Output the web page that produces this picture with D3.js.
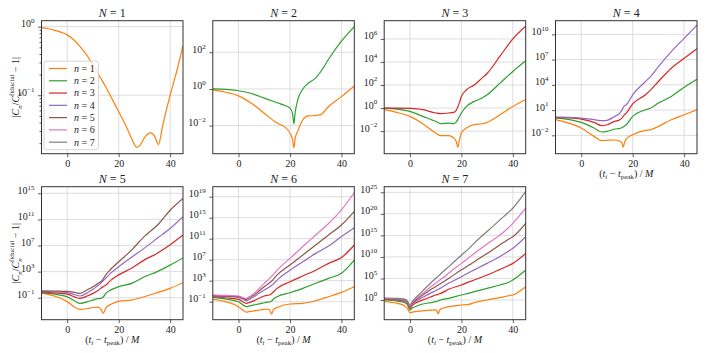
<!DOCTYPE html>
<html>
<head>
<script src="https://cdnjs.cloudflare.com/ajax/libs/d3/7.8.5/d3.min.js"></script>
<style>
  body { margin: 0; background: #fff; }
  svg text { font-family: "Liberation Serif", "DejaVu Serif", serif; fill: #222; }
  .grid line { stroke: #d4d4d4; stroke-width: 0.8; }
  .frame { fill: none; stroke: #333; stroke-width: 1; }
  .axis path { display: none; }
  .axis line { stroke: #333; stroke-width: 0.8; }
  .series { fill: none; stroke-width: 1.2; }
</style>
</head>
<body>
<svg id="fig" width="706" height="353"></svg>
<script>
// colours for n = 1..7
const seriesColors = ["#ff7f0e", "#2ca02c", "#d62728", "#9467bd", "#8c564b", "#e377c2", "#7f7f7f"];
const panelN = [1, 2, 3, 4, 5, 6, 7];
const xLim = [-10, 45];
const xTicks = [0, 20, 40];
// y limits and major ticks, as powers of ten
const yLimExp = [[-1.853, 0.087], [-3.53, 3.72], [-3.96, 7.58], [-4.18, 11.62], [-4.37, 16.01], [-4.43, 20.9], [-4.57, 26.3]];
const yTickExp = [[-1, 0], [-2, 0, 2], [-2, 0, 2, 4, 6], [-2, 1, 4, 7, 10], [-1, 3, 7, 11, 15], [-1, 3, 7, 11, 15, 19], [0, 5, 10, 15, 20, 25]];

// time samples (t_i - t_peak)/M per panel, and log10 |C_n/C_n^fid - 1| per n
const tN1 = [-10, -7.5, -5, -2.5, 0, 2.5, 5, 7.5, 10, 12.5, 15, 17.5, 20, 23, 25, 27, 28.5, 30, 32.5, 34, 35.5, 37, 40, 42, 45];
const devN1 = [
  [-0.015, -0.03, -0.05, -0.08, -0.12, -0.19, -0.29, -0.41, -0.56, -0.72, -0.88, -1.06, -1.24, -1.46, -1.63, -1.76, -1.72, -1.62, -1.55, -1.6, -1.72, -1.46, -1.0, -0.73, -0.28]
];

const tN2 = [-10, -5, 0, 5, 10, 15, 18, 20, 21, 21.5, 22, 23, 25, 27, 30, 32, 35, 40, 45];
const devN2 = [
  [-0.05, -0.18, -0.38, -0.78, -1.32, -1.86, -2.08, -2.41, -2.75, -3.2, -2.7, -2.3, -1.68, -1.47, -1.45, -1.4, -0.96, -0.42, 0.16],
  [0.0, -0.02, -0.1, -0.25, -0.5, -0.75, -0.9, -1.05, -1.35, -1.9, -1.3, -0.6, 0.0, 0.3, 0.6, 0.95, 1.62, 2.6, 3.4]
];

const tN3 = [-10, -5, 0, 5, 10, 12, 15, 17, 18, 18.6, 19.2, 20, 22, 25, 28, 30, 35, 40, 45];
const devN3 = [
  [-0.14, -0.38, -0.72, -1.36, -2.16, -2.4, -2.4, -2.6, -2.9, -3.4, -2.8, -2.16, -1.73, -1.44, -1.36, -1.24, -0.58, 0.14, 0.75],
  [0.0, -0.1, -0.29, -0.72, -1.15, -1.36, -1.3, -1.36, -1.2, -1.0, -0.75, -0.43, 0.14, 0.58, 0.87, 1.15, 2.16, 3.17, 4.1],
  [0.0, 0.0, -0.03, -0.14, -0.43, -0.49, -0.43, -0.38, -0.2, 0.1, 0.45, 1.0, 1.59, 2.0, 2.6, 3.0, 4.5, 6.0, 7.1]
];

const tN4 = [-10, -5, 0, 5, 8, 10, 13, 15, 15.8, 16.3, 16.8, 17.5, 20, 25, 27, 30, 35, 40, 45];
const devN4 = [
  [-0.14, -0.54, -1.13, -2.12, -2.63, -2.6, -2.55, -2.7, -2.9, -3.4, -2.9, -2.43, -1.92, -1.4, -1.33, -0.93, -0.14, 0.45, 1.04],
  [0.05, -0.1, -0.46, -1.13, -1.6, -1.53, -1.25, -1.17, -1.1, -1.0, -0.9, -0.74, 0.25, 1.04, 1.24, 1.83, 2.62, 3.72, 4.67],
  [0.13, 0.08, -0.07, -0.46, -0.86, -0.74, -0.34, -0.14, 0.05, 0.25, 0.45, 0.64, 1.75, 2.82, 3.4, 4.4, 5.97, 7.16, 8.3],
  [0.17, 0.15, 0.05, -0.14, -0.26, -0.22, 0.25, 0.64, 1.0, 1.3, 1.5, 1.63, 2.82, 4.4, 5.0, 6.17, 7.95, 9.53, 11.1]
];

const tN5 = [-10, -5, 0, 3, 5, 8, 10, 12, 13, 14, 15, 17, 20, 25, 30, 35, 40, 45];
const devN5 = [
  [-0.34, -0.74, -1.6, -2.5, -2.8, -2.65, -2.5, -2.45, -2.7, -3.4, -2.6, -2.0, -1.56, -1.36, -0.85, -0.23, 0.43, 1.3],
  [-0.23, -0.45, -0.85, -1.5, -1.87, -1.6, -1.36, -1.15, -1.1, -0.9, -0.34, 0.2, 0.69, 1.2, 2.2, 3.0, 4.0, 5.1],
  [-0.13, -0.25, -0.44, -0.9, -1.1, -0.7, -0.34, 0.1, 0.43, 0.7, 0.94, 1.7, 2.5, 3.5, 4.8, 5.8, 7.1, 8.6],
  [-0.03, -0.1, -0.23, -0.55, -0.74, -0.2, 0.28, 0.9, 1.2, 1.6, 2.0, 2.8, 3.75, 5.2, 6.6, 8.1, 9.6, 11.4],
  [0.07, 0.03, -0.03, -0.2, -0.34, 0.25, 0.69, 1.2, 1.45, 1.9, 2.5, 3.4, 4.5, 6.3, 8.4, 10.1, 12.4, 14.2]
];

const tN6 = [-10, -5, 0, 2, 3, 4, 6, 8, 10, 11, 12, 12.8, 13.6, 15, 20, 25, 30, 35, 40, 45];
const devN6 = [
  [-0.56, -1.0, -1.95, -2.7, -2.97, -2.9, -2.75, -2.6, -2.46, -2.4, -2.5, -3.35, -2.5, -2.1, -1.44, -1.32, -0.8, -0.05, 0.78, 1.86],
  [-0.17, -0.5, -1.0, -1.7, -1.95, -1.85, -1.63, -1.4, -1.2, -1.1, -1.06, -0.9, -0.5, -0.05, 0.71, 1.54, 2.5, 3.44, 4.4, 6.9],
  [-0.05, -0.25, -0.56, -1.1, -1.32, -1.2, -0.8, -0.35, 0.08, 0.2, 0.27, 0.5, 0.9, 1.54, 2.8, 3.9, 5.0, 6.3, 7.4, 9.8],
  [0.08, -0.02, -0.17, -0.6, -0.8, -0.6, -0.05, 0.6, 1.22, 1.5, 1.8, 2.1, 2.4, 3.1, 5.0, 6.6, 8.2, 9.6, 11.4, 13.1],
  [0.2, 0.1, -0.05, -0.4, -0.56, -0.3, 0.27, 1.05, 1.86, 2.2, 2.6, 2.9, 3.3, 4.1, 6.0, 7.9, 9.8, 11.7, 13.6, 16.2],
  [0.27, 0.2, 0.08, -0.25, -0.37, -0.1, 0.59, 1.5, 2.5, 2.95, 3.4, 3.8, 4.2, 5.0, 7.25, 9.5, 11.7, 13.9, 16.5, 19.8]
];

const tN7 = [-10, -5, -2, -1, 0, 1, 2, 5, 8, 10, 10.5, 11, 11.5, 12, 15, 20, 23, 25, 30, 35, 38, 40, 45];
const devN7 = [
  [-0.39, -0.77, -1.4, -1.9, -2.94, -2.8, -2.7, -2.5, -2.35, -2.3, -2.5, -3.25, -2.4, -2.1, -1.55, -1.16, -1.0, -0.62, 0.0, 0.54, 0.93, 1.16, 3.1],
  [0.0, -0.25, -0.62, -1.0, -2.3, -1.8, -1.55, -0.93, -0.6, -0.39, -0.3, -0.2, -0.1, 0.0, 0.39, 1.16, 1.6, 1.93, 2.7, 3.48, 4.0, 4.64, 6.97],
  [0.15, 0.0, -0.3, -0.7, -1.93, -1.2, -0.77, 0.0, 0.7, 1.16, 1.25, 1.35, 1.45, 1.55, 2.48, 3.48, 4.2, 4.64, 5.8, 7.1, 7.9, 8.5, 10.8],
  [0.23, 0.1, -0.2, -0.55, -1.7, -0.9, -0.39, 0.62, 1.6, 2.17, 2.35, 2.5, 2.65, 2.8, 3.87, 5.4, 6.4, 7.0, 8.5, 10.1, 11.2, 12.0, 14.7],
  [0.3, 0.2, -0.1, -0.45, -1.55, -0.7, -0.15, 1.16, 2.4, 3.1, 3.3, 3.5, 3.7, 3.85, 5.0, 7.0, 8.1, 8.9, 10.8, 12.8, 14.0, 14.7, 17.8],
  [0.39, 0.3, 0.05, -0.35, -1.4, -0.5, 0.15, 1.55, 3.0, 3.87, 4.1, 4.35, 4.6, 4.8, 6.2, 8.5, 9.9, 10.8, 13.0, 15.1, 16.6, 17.8, 21.3],
  [0.46, 0.4, 0.2, -0.2, -1.24, -0.3, 0.39, 2.17, 3.9, 5.0, 5.3, 5.55, 5.8, 6.1, 7.7, 10.4, 12.0, 13.2, 15.9, 18.6, 20.2, 21.3, 25.2]
];

const panelTimes = [tN1, tN2, tN3, tN4, tN5, tN6, tN7];
const panelDevs = [devN1, devN2, devN3, devN4, devN5, devN6, devN7];
const legendLabels = ["1", "2", "3", "4", "5", "6", "7"];

// layout
const W = 141.5, H = 133;
const colX = [41.5, 212.8, 384.2, 555.5];
const rowY = [20.7, 186.7];
const FONT = '"Liberation Serif", "DejaVu Serif", serif';

const svg = d3.select("#fig");

// text with italic / sub / sup pieces
function rich(textSel, parts, size, subShift = 0.3) {
  let shift = 0;
  parts.forEach(p => {
    const target = p.sub ? size * subShift : p.sup ? -size * 0.42 : 0;
    const ts = textSel.append("tspan").text(p.s)
      .attr("dy", target - shift)
      .attr("font-size", (p.sub || p.sup) ? size * 0.7 : size)
      .attr("font-style", p.it ? "italic" : "normal");
    if (p.dx) ts.attr("dx", p.dx);
    shift = target;
  });
  return textSel;
}

const yLabelParts = [
  { s: "|" }, { s: "C", it: true }, { s: "n", it: true, sub: true }, { s: "/" },
  { s: "C", it: true }, { s: "n", it: true, sub: true }, { s: "fiducial", sup: true, dx: -3.6 },
  { s: " − 1|" }
];
const xLabelParts = [
  { s: "(" }, { s: "t", it: true }, { s: "i", it: true, sub: true }, { s: " − " },
  { s: "t", it: true }, { s: "peak", sub: true }, { s: ")  /  " }, { s: "M", it: true }
];

panelN.forEach((N, p) => {
  const left = colX[p % 4], top = rowY[Math.floor(p / 4)];
  const g = svg.append("g").attr("transform", `translate(${left},${top})`);
  const x = d3.scaleLinear().domain(xLim).range([0, W]);
  const y = d3.scaleLog().domain(yLimExp[p].map(e => Math.pow(10, e))).range([H, 0]);
  const majors = yTickExp[p].map(e => Math.pow(10, e));

  // grid
  const grid = g.append("g").attr("class", "grid");
  grid.selectAll(".gx").data(xTicks).join("line")
    .attr("x1", d => x(d)).attr("x2", d => x(d)).attr("y1", 0).attr("y2", H);
  grid.selectAll(".gy").data(majors).join("line")
    .attr("y1", d => y(d)).attr("y2", d => y(d)).attr("x1", 0).attr("x2", W);

  // clipped series
  g.append("clipPath").attr("id", "clip" + p)
    .append("rect").attr("width", W).attr("height", H);
  const line = d3.line()
    .x(d => x(d[0]))
    .y(d => y(Math.pow(10, d[1])))
    .curve(d3.curveMonotoneX);
  const times = panelTimes[p];
  g.append("g").attr("clip-path", `url(#clip${p})`)
    .selectAll("path").data(panelDevs[p]).join("path")
    .attr("class", "series")
    .attr("stroke", (d, i) => seriesColors[i])
    .attr("d", d => line(d.map((v, k) => [times[k], v])));

  // x axis
  const xa = g.append("g").attr("class", "axis").attr("transform", `translate(0,${H})`)
    .call(d3.axisBottom(x).tickValues(xTicks).tickSize(3.5).tickPadding(2.5).tickFormat(d3.format("d")));
  xa.attr("font-family", FONT).attr("font-size", 10);
  xa.selectAll("text").attr("fill", "#222");

  // y axis: minor ticks only on the first panel
  if (p === 0) {
    const minors = [];
    [0.01, 0.1].forEach(b => d3.range(2, 10).forEach(k => minors.push(b * k)));
    g.append("g").attr("class", "axis")
      .call(d3.axisLeft(y).tickValues(minors.filter(v => v >= y.domain()[0] && v <= y.domain()[1]))
        .tickSize(2).tickFormat(""));
  }
  const ya = g.append("g").attr("class", "axis")
    .call(d3.axisLeft(y).tickValues(majors).tickSize(3.5).tickPadding(3.5).tickFormat(""));
  ya.attr("font-family", FONT);
  ya.selectAll(".tick text").each(function(d, i) {
    const e = yTickExp[p][i];
    const t = d3.select(this).text("").attr("fill", "#222").attr("dy", "0.32em");
    rich(t, [{ s: "10" }, { s: e < 0 ? "−" + (-e) : String(e), sup: true }], 10);
  });

  // frame
  g.append("rect").attr("class", "frame").attr("width", W).attr("height", H);

  // title
  rich(g.append("text").attr("x", W / 2).attr("y", -3.5).attr("text-anchor", "middle"),
    [{ s: "N", it: true }, { s: " = " + N }], 12);

  // y label on left column
  if (p % 4 === 0) {
    rich(g.append("text").attr("transform", `translate(${15 - left + 3.5},${H / 2}) rotate(-90)`)
      .attr("text-anchor", "middle"), yLabelParts, 10);
  }
  // x label on bottom-most panel of each column
  if (p >= 3) {
    rich(g.append("text").attr("x", W / 2).attr("y", H + 23.5).attr("text-anchor", "middle"),
      xLabelParts, 10, 0.22);
  }

  // legend on first panel
  if (p === 0) {
    const lg = g.append("g").attr("transform", "translate(2.5,40.5)");
    lg.append("rect").attr("width", 54.5).attr("height", 88.5).attr("rx", 2.5)
      .attr("fill", "#fff").attr("fill-opacity", 0.8).attr("stroke", "#cccccc").attr("stroke-width", 0.8);
    legendLabels.forEach((lab, i) => {
      const yy = 7.3 + i * 12.28;
      lg.append("line").attr("x1", 5).attr("x2", 23).attr("y1", yy).attr("y2", yy)
        .attr("stroke", seriesColors[i]).attr("stroke-width", 1.2);
      rich(lg.append("text").attr("x", 30).attr("y", yy + 3.4), [{ s: "n", it: true }, { s: " = " + lab }], 10);
    });
  }
});
</script>
</body>
</html>
